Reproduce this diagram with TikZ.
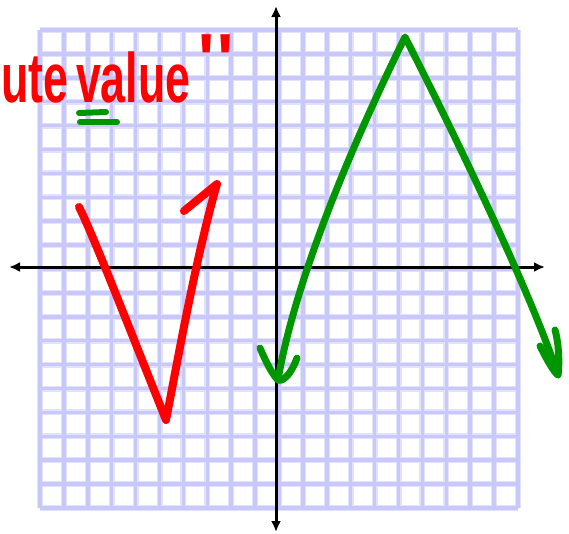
\documentclass[tikz,border=0pt]{standalone}
\usepackage{fontspec}
\usepackage{graphicx}
\newfontfamily\handfont{Liberation Sans}
\usetikzlibrary{arrows.meta}
\definecolor{gridhalo}{RGB}{226,226,252}
\definecolor{gridcore}{RGB}{200,200,250}
\definecolor{redpenc}{RGB}{255,0,0}
\definecolor{greenpenc}{RGB}{0,150,0}
\tikzset{
  gridhalo/.style={draw=gridhalo, line width=6pt},
  gridcore/.style={draw=gridcore, line width=3.5pt},
  axisline/.style={draw=black, line width=3pt, {Latex[length=11pt,width=10pt]}-{Latex[length=11pt,width=10pt]}},
  redpen/.style={draw=redpenc, line width=8pt, line cap=round, line join=round},
  greenpen/.style={draw=greenpenc, line width=7pt, line cap=round, line join=round},
  handtext/.style={text=redpenc, font=\handfont\bfseries\fontsize{70}{70}\selectfont, inner sep=0pt},
  quotetext/.style={text=redpenc, font=\handfont\fontsize{70}{70}\selectfont, inner sep=0pt},
}
\begin{document}
\begin{tikzpicture}[x=1pt,y=-1pt]
\useasboundingbox (0,0) rectangle (569,533);
\clip (0,0) rectangle (569,533);
% grid
\foreach \i in {0,...,20} {
  \draw[gridhalo] (40+\i*23.9,30) -- (40+\i*23.9,508);
  \draw[gridhalo] (40,30+\i*23.9) -- (518,30+\i*23.9);
}
\foreach \i in {0,...,20} {
  \draw[gridcore] (40+\i*23.9,30) -- (40+\i*23.9,508);
  \draw[gridcore] (40,30+\i*23.9) -- (518,30+\i*23.9);
}
% axes
\coordinate (xl) at (9,267);
\coordinate (xr) at (545,267);
\coordinate (yt) at (276,6);
\coordinate (yb) at (276,532);
\draw[axisline] (xl) -- (xr);
\draw[axisline] (yt) -- (yb);
% text
\node[handtext, anchor=base west] (txt) at (1,102) {\scalebox{0.64}[1]{ute\kern12pt value}};
\node[quotetext] (quo) at (216,64) {\scalebox{1.5}[1.2]{"}};
% green underline
\coordinate (u1a) at (79,113);
\coordinate (u1b) at (106,112);
\coordinate (u2a) at (80,122);
\coordinate (u2b) at (117,122);
\draw[greenpen, line width=6pt] (u1a) -- (u1b);
\draw[greenpen, line width=6pt] (u2a) -- (u2b);
% red curve
\coordinate (r0) at (79,207);
\coordinate (r1) at (166,420);
\coordinate (r2) at (217,184);
\coordinate (r3) at (184,211);
\draw[redpen] (r0) .. controls (92,232) and (130,330) .. (r1)
  .. controls (176,370) and (195,260) .. (r2) -- (r3);
% green curve
\coordinate (g0) at (260,348);
\coordinate (g1) at (278,380);
\coordinate (g2) at (297,358);
\coordinate (gp) at (405,37);
\coordinate (g3) at (558,375);
\coordinate (g4) at (540,346);
\coordinate (g5) at (555,330);
\draw[greenpen] (g0) .. controls (266,362) and (272,374) .. (g1)
  .. controls (284,382) and (292,372) .. (g2);
\draw[greenpen] (g1) .. controls (288,320) and (320,210) .. (gp)
  .. controls (450,125) and (530,290) .. (g3);
\draw[greenpen] (g4) .. controls (548,362) and (554,372) .. (g3)
  .. controls (560,360) and (558,340) .. (g5);
\end{tikzpicture}
\end{document}
